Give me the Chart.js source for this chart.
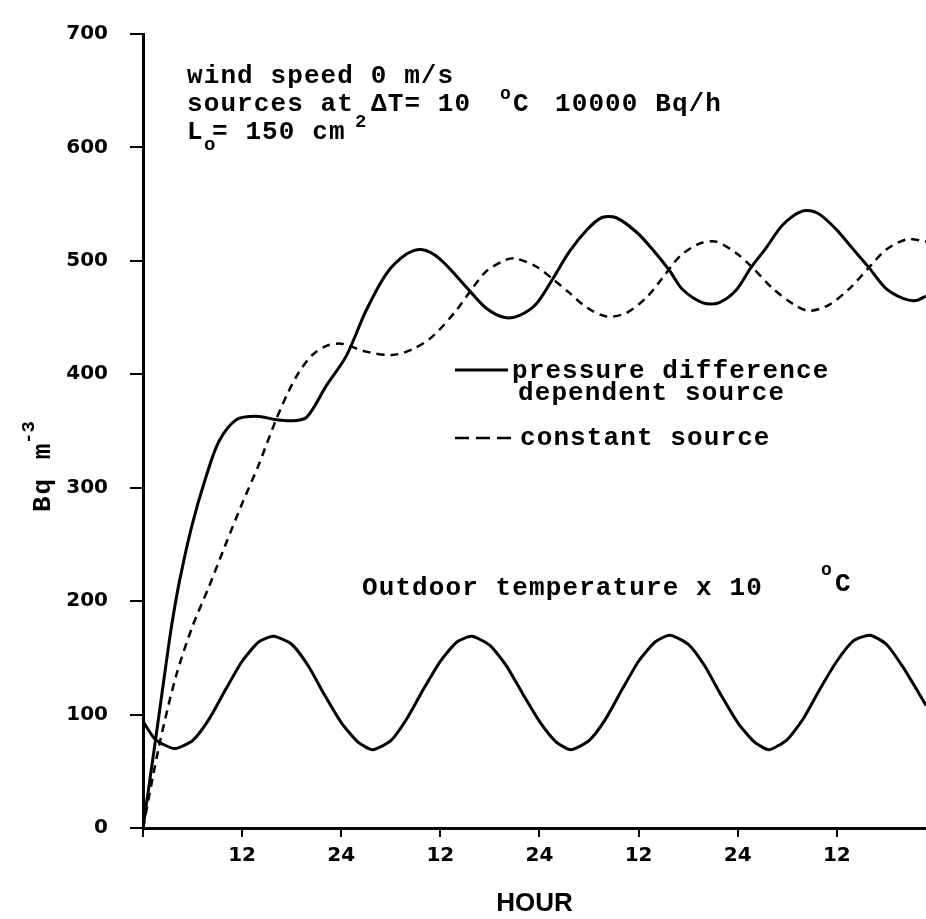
<!DOCTYPE html>
<html>
<head>
<meta charset="utf-8">
<script src="https://cdn.jsdelivr.net/npm/chart.js@4.4.1/dist/chart.umd.min.js"></script>
<style>
  html, body { margin: 0; padding: 0; background: #fff; }
  #wrap { width: 926px; height: 919px; }
</style>
</head>
<body>
<div id="wrap"><canvas id="chart" width="926" height="919"></canvas></div>
<script>
// Pressure difference dependent source (solid)
const pressureHours = [0, 1.6, 2.8, 3.5, 4.4, 5.9, 7.6, 9.2, 11.3, 13.7, 16.1, 18, 19.8, 22.2, 24.6, 27, 29.5, 31.9, 33.7, 35.9,
  39.5, 41.6, 43.8, 45.6, 47.6, 49.6, 51.6, 53.7, 55.5, 57.3, 59.8, 61.7, 63.8, 65.3, 67.8, 69.7, 71.8, 73.6, 75.4, 77.5,
  79.9, 81.7, 83.9, 85.9, 87.9, 89.9, 92, 93.6, 94.8];
const pressureValues = [0, 82, 145, 180, 217, 266, 309, 341, 360, 363, 360, 359, 362, 390, 416, 456, 489, 506, 510, 502,
  474, 458, 450, 452, 462, 484, 508, 527, 538, 538, 525, 510, 491, 475, 463, 463, 474, 494, 511, 532,
  544, 542, 528, 511, 494, 476, 467, 465, 469];

// Constant source (dashed)
const constantHours = [0, 2, 4, 6, 8, 10, 12, 14, 16, 17.5, 18.9, 20.5, 22.2, 24, 27, 30.2, 32.6, 35, 37.9, 39.9, 41.6,
  44, 45.2, 47.6, 49.6, 51.6, 53.7, 56.1, 58.5, 61, 62.9, 65, 67.3, 69.3, 71.8, 73.8, 76.2, 78.7, 80.6, 83, 85.6,
  88, 90, 92.5, 94.8];
const constantValues = [0, 74, 134, 178, 213, 250, 286, 320, 358, 383, 402, 417, 425, 427, 420, 417, 422, 433, 456, 476, 491,
  501, 502, 495, 484, 472, 459, 451, 454, 468, 485, 504, 515, 517, 507, 494, 476, 462, 456, 461, 476,
  495, 510, 519, 517];

// Outdoor temperature x 10
const tempHours = [0, 1.5, 3.8, 6, 8, 10, 12, 14, 15.8, 18, 20, 22, 24, 26, 27.8, 30, 32, 34, 36, 38, 39.8, 42, 44, 46, 48,
  50, 51.8, 54, 56, 58, 60, 62, 63.8, 66, 68, 70, 72, 74, 75.8, 78, 80, 82, 84, 86, 88, 90, 92, 94, 94.8];
const tempValues = [94, 78, 70, 77, 96, 122, 147, 164, 169, 162, 143, 117, 93, 76, 69, 77, 97, 123, 147, 164, 169, 161, 143, 118, 94,
  76, 69, 77, 96, 122, 147, 164, 170, 162, 143, 117, 93, 76, 69, 78, 97, 123, 147, 165, 170, 162, 142, 118, 108];

// axis ticks
const xTickHours = [0, 12, 24, 36, 48, 60, 72, 84];
const xTickLabels = ['', '12', '24', '12', '24', '12', '24', '12'];
const yTicks = [0, 100, 200, 300, 400, 500, 600, 700];

const MONO = '"Liberation Mono", "DejaVu Sans Mono", monospace';
const SANS = '"DejaVu Sans", "Liberation Sans", sans-serif';

function zip(xs, ys) {
    return xs.map((x, i) => ({ x: x, y: ys[i] }));
}

function txt(ctx, s, x, y, size, spacing) {
    ctx.font = `bold ${size}px ${MONO}`;
    ctx.letterSpacing = (spacing === undefined ? 1.1 : spacing) + 'px';
    ctx.fillText(s, x, y);
}

// annotations, legend and y title drawn on top of the chart
const notesPlugin = {
    id: 'notes',
    afterDraw(chart) {
        const ctx = chart.ctx;
        ctx.save();
        ctx.fillStyle = '#000';
        ctx.strokeStyle = '#000';
        ctx.textAlign = 'left';
        ctx.textBaseline = 'alphabetic';

        // header text
        txt(ctx, 'wind speed 0 m/s', 187, 83, 26);
        txt(ctx, 'sources at', 187, 111, 26);
        txt(ctx, '2', 355, 127, 19, 0);
        txt(ctx, '\u0394T= 10', 371, 111, 26);
        txt(ctx, 'o', 500, 99, 18, 0);
        txt(ctx, 'C', 513, 111, 26);
        txt(ctx, '10000 Bq/h', 555, 111, 26);
        txt(ctx, 'L', 187, 139, 26);
        txt(ctx, 'o', 204, 150, 19, 0);
        txt(ctx, '= 150 cm', 212, 139, 26);

        // legend
        ctx.lineWidth = 3;
        ctx.beginPath();
        ctx.moveTo(455, 370);
        ctx.lineTo(508, 370);
        ctx.stroke();
        txt(ctx, 'pressure difference', 512, 378, 26);
        txt(ctx, 'dependent source', 518, 400, 26);
        ctx.lineWidth = 2.5;
        ctx.setLineDash([14, 7]);
        ctx.beginPath();
        ctx.moveTo(455, 438);
        ctx.lineTo(511, 438);
        ctx.stroke();
        ctx.setLineDash([]);
        txt(ctx, 'constant source', 520, 445, 26);

        txt(ctx, 'Outdoor temperature x 10', 362, 595, 26);
        txt(ctx, 'o', 821, 575, 18, 0);
        txt(ctx, 'C', 835, 591, 26);

        // y axis title, rotated
        ctx.translate(50, 512);
        ctx.rotate(-Math.PI / 2);
        txt(ctx, 'Bq m', 0, 0, 26, 2);
        txt(ctx, '-3', 68, -16, 19, 0);
        ctx.restore();
    }
};

const ctx = document.getElementById('chart').getContext('2d');
new Chart(ctx, {
    type: 'line',
    data: {
        datasets: [
            {
                label: 'pressure difference dependent source',
                data: zip(pressureHours, pressureValues),
                borderColor: '#000',
                borderWidth: 3,
                pointRadius: 0,
                tension: 0.3,
                fill: false
            },
            {
                label: 'constant source',
                data: zip(constantHours, constantValues),
                borderColor: '#000',
                borderWidth: 2.5,
                borderDash: [8, 6],
                pointRadius: 0,
                tension: 0.3,
                fill: false
            },
            {
                label: 'Outdoor temperature x 10',
                data: zip(tempHours, tempValues),
                borderColor: '#000',
                borderWidth: 3,
                pointRadius: 0,
                tension: 0.2,
                fill: false
            }
        ]
    },
    options: {
        responsive: false,
        animation: false,
        layout: { padding: { top: 20, right: 0, left: 0, bottom: 0 } },
        plugins: {
            legend: { display: false },
            tooltip: { enabled: false }
        },
        scales: {
            x: {
                type: 'linear',
                min: 0,
                max: 94.8,
                afterFit: (scale) => { scale.height = 91; },
                afterBuildTicks: (scale) => { scale.ticks = xTickHours.map(v => ({ value: v })); },
                border: { display: true, color: '#000', width: 3 },
                grid: { drawOnChartArea: false, drawTicks: true, tickLength: 9, color: '#000', lineWidth: 2 },
                ticks: {
                    autoSkip: false,
                    maxRotation: 0,
                    padding: 7,
                    color: '#000',
                    font: { family: SANS, size: 20, weight: 'bold' },
                    callback: (value, index) => xTickLabels[index]
                },
                title: {
                    display: true,
                    text: 'HOUR',
                    color: '#000',
                    padding: { top: 0, bottom: 0 },
                    font: { family: '"Liberation Sans", sans-serif', size: 26, weight: 'bold' }
                }
            },
            y: {
                min: 0,
                max: 700,
                afterFit: (scale) => { scale.width = 143; },
                afterBuildTicks: (scale) => { scale.ticks = yTicks.map(v => ({ value: v })); },
                border: { display: true, color: '#000', width: 3 },
                grid: { drawOnChartArea: false, drawTicks: true, tickLength: 13, color: '#000', lineWidth: 2 },
                ticks: {
                    padding: 22,
                    color: '#000',
                    font: { family: SANS, size: 20, weight: 'bold' }
                }
            }
        }
    },
    plugins: [notesPlugin]
});
</script>
</body>
</html>
